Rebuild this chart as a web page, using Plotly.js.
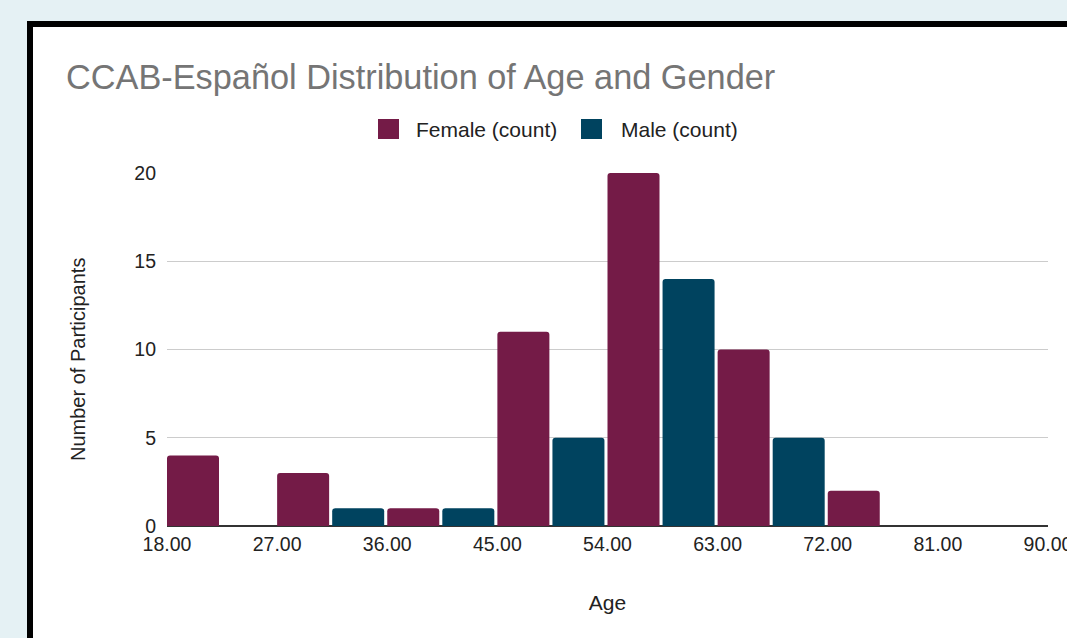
<!DOCTYPE html>
<html>
<head>
<meta charset="utf-8">
<script src="https://cdn.plot.ly/plotly-3.0.1.min.js"></script>
<style>
  html, body { margin:0; padding:0; width:1067px; height:638px; overflow:hidden; background:#e5f1f4; }
  #frame { position:absolute; left:27px; top:21px; border:6px solid #000; background:#fff; width:1100px; height:700px; }
  #chart { width:1100px; height:700px; }
</style>
</head>
<body>
<div id="frame"><div id="chart"></div></div>
<script>
// Bin starts (age), width 9
const binStarts = [18, 27, 36, 45, 54, 63, 72, 81];
const femaleCounts = [4, 3, 1, 11, 20, 10, 2, 0];
const maleCounts = [0, 1, 1, 5, 14, 5, 0, 0];
const xTicks = [18, 27, 36, 45, 54, 63, 72, 81, 90];
const yTicks = [0, 5, 10, 15, 20];
const seriesNames = ['Female (count)', 'Male (count)'];
const yTitle = 'Number of Participants';

const femaleColor = '#741b47';
const maleColor = '#00435f';
const FONT = 'Liberation Sans, Arial, sans-serif';

const W = 1100, H = 700;
const M = { l: 134, r: 85, t: 146, b: 201 };
// pixel (within the chart div) -> plot-area paper fraction
const fx = px => (px - M.l) / (W - M.l - M.r);
const fy = py => 1 - (py - M.t) / (H - M.t - M.b);
const OX = 33, OY = 27; // chart div origin on page

const traces = [
  {
    type: 'bar', x: binStarts, y: femaleCounts, name: seriesNames[0],
    offset: 0, width: 4.25, marker: { color: femaleColor, cornerradius: 3 },
    showlegend: false
  },
  {
    type: 'bar', x: binStarts, y: maleCounts, name: seriesNames[1],
    offset: 4.5, width: 4.25, marker: { color: maleColor, cornerradius: 3 },
    showlegend: false
  }
];

// manual legend (larger swatches than Plotly's built-in legend allows)
const legendItems = [
  { sx: 378 - OX, tx: 414 - OX, color: femaleColor, name: seriesNames[0] },
  { sx: 581 - OX, tx: 619 - OX, color: maleColor, name: seriesNames[1] }
];
const legendY = 129 - OY;
const shapes = legendItems.map(it => ({
  type: 'rect', xref: 'paper', yref: 'paper',
  x0: fx(it.sx), x1: fx(it.sx + 21), y0: fy(legendY - 10), y1: fy(legendY + 10),
  fillcolor: it.color, line: { width: 0 }, layer: 'above'
}));
const annotations = legendItems.map(it => ({
  xref: 'paper', yref: 'paper', x: fx(it.tx), y: fy(legendY + 1),
  xanchor: 'left', yanchor: 'middle', showarrow: false,
  text: it.name, font: { family: FONT, size: 21, color: '#222222' }
}));
// y-axis title (placed as annotation to match its vertical offset)
annotations.push({
  xref: 'paper', yref: 'paper', x: fx(78 - OX), y: fy(360 - OY),
  xanchor: 'center', yanchor: 'middle', showarrow: false, textangle: -90,
  text: yTitle, font: { family: FONT, size: 20, color: '#222222' }
});

const layout = {
  width: W, height: H,
  margin: M,
  paper_bgcolor: '#ffffff', plot_bgcolor: '#ffffff',
  font: { family: FONT, color: '#222222' },
  barmode: 'overlay',
  showlegend: false,
  title: {
    text: 'CCAB-Español Distribution of Age and Gender',
    font: { family: FONT, size: 34.3, color: '#757575' },
    xref: 'container', x: 33/W, xanchor: 'left',
    yref: 'container', y: 1 - 50/H, yanchor: 'middle'
  },
  shapes: shapes,
  annotations: annotations,
  xaxis: {
    range: [18, 90], tickvals: xTicks, ticktext: xTicks.map(v => v.toFixed(2)),
    showgrid: false, zeroline: false, showline: false,
    tickfont: { family: FONT, size: 19.5, color: '#222222' },
    ticks: '', ticklabelstandoff: 4,
    title: { text: 'Age', font: { family: FONT, size: 21, color: '#222222' }, standoff: 41 }
  },
  yaxis: {
    range: [0, 20], tickvals: yTicks,
    showgrid: true, gridcolor: '#cccccc', gridwidth: 1,
    zeroline: true, zerolinecolor: '#333333', zerolinewidth: 1.5,
    showline: false, ticks: '', ticklabelstandoff: 10,
    tickfont: { family: FONT, size: 19.5, color: '#222222' }
  }
};

Plotly.newPlot('chart', traces, layout, { displayModeBar: false, staticPlot: true });
</script>
</body>
</html>
